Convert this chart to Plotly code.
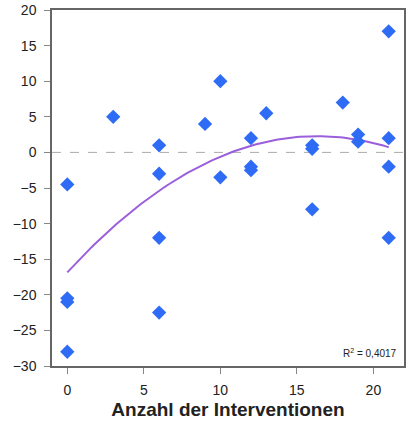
import numpy as np
import plotly.graph_objects as go

# Number of interventions per case and the corresponding change score
interventions = [0, 0, 0, 0, 3, 6, 6, 6, 6, 9, 10, 10, 12, 12, 12, 13,
                 16, 16, 16, 18, 19, 19, 21, 21, 21, 21]
change = [-4.5, -20.5, -21, -28, 5, 1, -3, -12, -22.5, 4, 10, -3.5, 2, -2, -2.5, 5.5,
          1, 0.5, -8, 7, 2.5, 1.5, 17, 2, -2, -12]

x_ticks = [0, 5, 10, 15, 20]
y_ticks = [-30, -25, -20, -15, -10, -5, 0, 5, 10, 15, 20]
r2_label = "R<sup>2</sup> = 0,4017"

FONT = "Liberation Sans, Arial, sans-serif"

# Second-order polynomial trend over the observed range
coef = np.polyfit(interventions, change, 2)
xs = np.linspace(min(interventions), max(interventions), 120)
ys = np.polyval(coef, xs)

fig = go.Figure()
fig.add_trace(go.Scatter(
    x=xs, y=ys, mode="lines",
    line=dict(color="#9b5fdc", width=2),
    hoverinfo="skip", showlegend=False,
))
fig.add_trace(go.Scatter(
    x=interventions, y=change, mode="markers",
    marker=dict(symbol="diamond", size=11, color="#2f6cf5"),
    showlegend=False,
))

# Dashed reference line at zero
fig.add_shape(type="line", xref="paper", yref="y", x0=0, x1=1, y0=0, y1=0,
              line=dict(color="#aaaaaa", width=1, dash="dash"), layer="below")

fig.add_annotation(
    text=r2_label, xref="paper", yref="paper", x=0.985, y=0.015,
    xanchor="right", yanchor="bottom", showarrow=False,
    font=dict(family=FONT, size=10, color="#222222"),
)

axis_common = dict(
    showgrid=False, zeroline=False, showline=True, mirror=True,
    linecolor="#666666", linewidth=1.5, automargin=False,
    ticks="outside", ticklen=6, tickcolor="#888888", tickwidth=1,
    tickfont=dict(family=FONT, size=14, color="#222222"),
)

fig.update_xaxes(range=[-1, 22], tickvals=x_ticks, ticklabelstandoff=4, **axis_common,
                 title=dict(text="<b>Anzahl der Interventionen</b>", standoff=6,
                            font=dict(family=FONT, size=19, color="#222222")))
fig.update_yaxes(range=[-30, 20], tickvals=y_ticks, ticklabelstandoff=5, **axis_common)

fig.update_layout(
    width=410, height=423,
    margin=dict(l=52, r=6, t=10, b=57),
    paper_bgcolor="white", plot_bgcolor="white",
)

fig.write_html("out.html")
